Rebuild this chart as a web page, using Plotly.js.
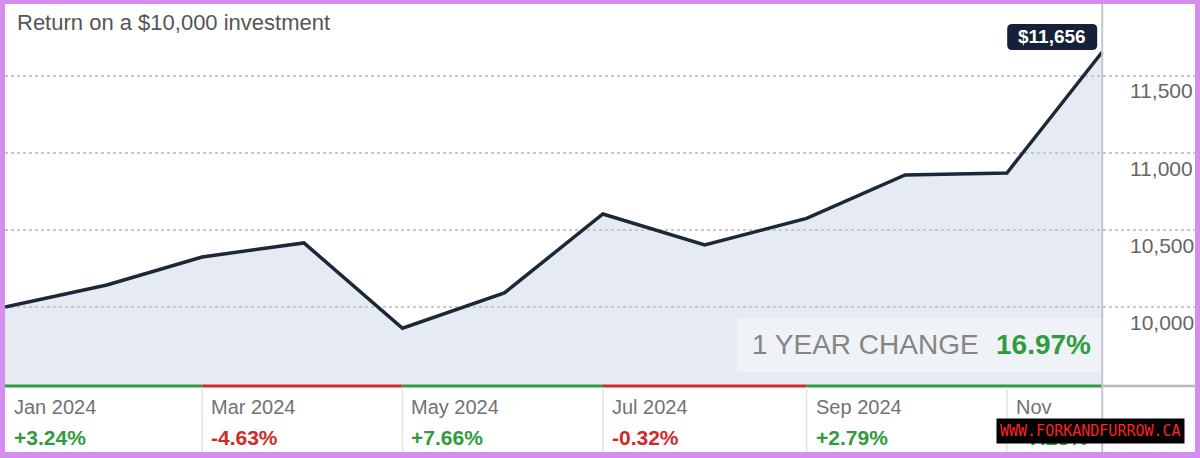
<!DOCTYPE html>
<html>
<head>
<meta charset="utf-8">
<script src="https://cdn.plot.ly/plotly-3.0.1.min.js"></script>
<style>
  html, body { margin: 0; padding: 0; background: #fff; }
  #wrap { position: relative; width: 1200px; height: 458px; overflow: hidden; }
  #chart { width: 1200px; height: 458px; }
  #frame { position: absolute; left: 0; top: 0; width: 1200px; height: 458px; box-sizing: border-box;
           border-style: solid; border-color: #d68df0; border-width: 4px 5px 6px 5px; pointer-events: none; }
</style>
</head>
<body>
<div id="wrap"><div id="chart"></div><div id="frame"></div></div>
<script>
// ---- data ----
const dates = ['2024-01-01','2024-02-01','2024-03-01','2024-04-01','2024-05-01','2024-06-01',
               '2024-07-01','2024-08-01','2024-09-01','2024-10-01','2024-11-01','2024-11-30'];
const values = [10000, 10143, 10325, 10416, 9862, 10091, 10604, 10403, 10575, 10857, 10870, 11656];
const yTicks = [10000, 10500, 11000, 11500];
const yTickText = ['10,000', '10,500', '11,000', '11,500'];
const periodStarts = ['2024-01-01','2024-03-01','2024-05-01','2024-07-01','2024-09-01','2024-11-01'];
const periodLabels = ['Jan 2024','Mar 2024','May 2024','Jul 2024','Sep 2024','Nov'];
const periodChanges = ['+3.24%','-4.63%','+7.66%','-0.32%','+2.79%','+7.23%'];
const titleText = 'Return on a $10,000 investment';
const endLabel = '$11,656';
const yearChangeLabel = '1 YEAR CHANGE';
const yearChangeValue = '16.97%';
const watermark = 'WWW.FORKANDFURROW.CA';

// ---- styling ----
const FONT = 'Liberation Sans, Arial, Helvetica, sans-serif';
const GREEN = '#2f9c3d';
const RED = '#d12a2a';
const lastDate = dates[dates.length - 1];
const lastVal = values[values.length - 1];
const plotTopPx = 5, plotBottomPx = 386, plotH = plotBottomPx - plotTopPx;
const pxY = px => (plotBottomPx - px) / plotH;     // page pixel -> paper y
const pxX = px => (px - 5) / 1190;                 // page pixel -> paper x

const trace = {
  x: dates, y: values, type: 'scatter', mode: 'lines',
  line: { color: '#1b2838', width: 3.5 },
  fill: 'tozeroy', fillcolor: 'rgba(190,203,224,0.38)',
  hoverinfo: 'skip'
};

const shapes = [];
const annotations = [];

// background box for 1 year change
shapes.push({ type: 'rect', xref: 'paper', yref: 'paper', x0: pxX(737), x1: pxX(1102),
  y0: pxY(372), y1: pxY(318), fillcolor: 'rgba(255,255,255,0.35)', line: { width: 0 }, layer: 'above' });

// period colored bars and cell borders
const cellBottom = pxY(452);
for (let i = 0; i < periodStarts.length; i++) {
  const end = i + 1 < periodStarts.length ? periodStarts[i + 1] : lastDate;
  const col = periodChanges[i].startsWith('-') ? RED : GREEN;
  shapes.push({ type: 'line', xref: 'x', yref: 'paper', x0: periodStarts[i], x1: end, y0: 0, y1: 0,
    line: { color: col, width: 3 }, layer: 'above' });
  if (i > 0) {
    shapes.push({ type: 'line', xref: 'x', yref: 'paper', x0: periodStarts[i], x1: periodStarts[i],
      y0: cellBottom, y1: -0.008, line: { color: '#e2e2e2', width: 1.5 } });
  }
  annotations.push({ xref: 'x', yref: 'paper', x: periodStarts[i], y: 0, xanchor: 'left', yanchor: 'middle',
    xshift: 7, yshift: -21, showarrow: false, text: periodLabels[i],
    font: { family: FONT, size: 20, color: '#727272' } });
  annotations.push({ xref: 'x', yref: 'paper', x: periodStarts[i], y: 0, xanchor: 'left', yanchor: 'middle',
    xshift: 7, yshift: -51, showarrow: false, text: '<b>' + periodChanges[i] + '</b>',
    font: { family: FONT, size: 21, color: col } });
}
// gray continuation of bottom line
shapes.push({ type: 'line', xref: 'x', yref: 'paper', x0: lastDate, x1: '2024-12-31', y0: 0, y1: 0,
  line: { color: '#b9b9b9', width: 2.5 }, layer: 'above' });
// vertical line at last point
shapes.push({ type: 'line', xref: 'x', yref: 'paper', x0: lastDate, x1: lastDate, y0: cellBottom, y1: 1.02,
  line: { color: '#c3c7cc', width: 2 }, layer: 'above' });

// rounded badge behind the end value label (pixel offsets from the last point)
const L = -95, R = -5, B = 2, T = 28, r = 5;
shapes.push({ type: 'path', xref: 'x', yref: 'y', xsizemode: 'pixel', ysizemode: 'pixel',
  xanchor: lastDate, yanchor: lastVal, layer: 'above',
  path: `M ${L + r},${B} L ${R - r},${B} Q ${R},${B} ${R},${B + r} L ${R},${T - r} Q ${R},${T} ${R - r},${T} ` +
        `L ${L + r},${T} Q ${L},${T} ${L},${T - r} L ${L},${B + r} Q ${L},${B} ${L + r},${B} Z`,
  fillcolor: '#15213a', line: { width: 0 } });

// y tick labels
yTicks.forEach((v, i) => {
  annotations.push({ xref: 'paper', yref: 'y', x: pxX(1128), y: v, xanchor: 'left', yanchor: 'middle',
    yshift: -15, showarrow: false, text: yTickText[i], font: { family: FONT, size: 21, color: '#666' } });
});

// title
annotations.push({ xref: 'paper', yref: 'paper', x: pxX(15), y: 1, xanchor: 'left', yanchor: 'middle',
  yshift: -17, showarrow: false, text: titleText, font: { family: FONT, size: 22, color: '#555' } });

// end value label
annotations.push({ xref: 'x', yref: 'y', x: lastDate, y: lastVal, xanchor: 'center', yanchor: 'middle',
  xshift: (L + R) / 2, yshift: (B + T) / 2, showarrow: false, text: '<b>' + endLabel + '</b>',
  font: { family: FONT, size: 19, color: '#ffffff' } });

// 1 year change
annotations.push({ xref: 'paper', yref: 'paper', x: pxX(981), y: pxY(344), xanchor: 'right', yanchor: 'middle',
  showarrow: false, text: yearChangeLabel, font: { family: FONT, size: 28, color: '#858585' } });
annotations.push({ xref: 'paper', yref: 'paper', x: pxX(1093), y: pxY(344), xanchor: 'right', yanchor: 'middle',
  showarrow: false, text: '<b>' + yearChangeValue + '</b>', font: { family: FONT, size: 28, color: GREEN } });

// watermark
annotations.push({ xref: 'paper', yref: 'paper', x: pxX(1090), y: pxY(431), xanchor: 'center', yanchor: 'middle',
  showarrow: false, text: watermark, font: { family: 'DejaVu Sans Mono, monospace', size: 15, color: '#ff2222' },
  bgcolor: '#000000', borderpad: 3 });

const layout = {
  width: 1200, height: 458,
  margin: { l: 5, r: 5, t: plotTopPx, b: 458 - plotBottomPx, pad: 0 },
  paper_bgcolor: '#ffffff', plot_bgcolor: '#ffffff',
  showlegend: false, hovermode: false,
  xaxis: { type: 'date', range: ['2024-01-01', '2024-12-28 06:00'], showgrid: false, zeroline: false,
           showticklabels: false, ticks: '', showline: false, fixedrange: true },
  yaxis: { range: [9487, 11961], tickvals: yTicks, showticklabels: false, showgrid: true,
           gridcolor: '#c9c9c9', gridwidth: 1.5, griddash: 'dot', zeroline: false, ticks: '', showline: false,
           fixedrange: true },
  shapes: shapes, annotations: annotations
};

Plotly.newPlot('chart', [trace], layout, { displayModeBar: false, staticPlot: true });
</script>
</body>
</html>
